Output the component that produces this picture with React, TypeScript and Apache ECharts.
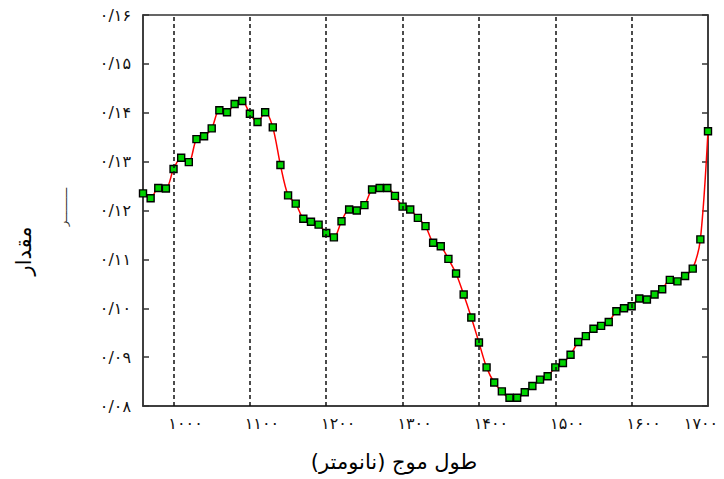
import React, { useEffect, useRef } from "react";
import * as echarts from "echarts";

const wavelengths = [
  960, 970, 980, 990, 1000, 1010, 1020, 1030, 1040, 1050,
  1060, 1070, 1080, 1090, 1100, 1110, 1120, 1130, 1140, 1150,
  1160, 1170, 1180, 1190, 1200, 1210, 1220, 1230, 1240, 1250,
  1260, 1270, 1280, 1290, 1300, 1310, 1320, 1330, 1340, 1350,
  1360, 1370, 1380, 1390, 1400, 1410, 1420, 1430, 1440, 1450,
  1460, 1470, 1480, 1490, 1500, 1510, 1520, 1530, 1540, 1550,
  1560, 1570, 1580, 1590, 1600, 1610, 1620, 1630, 1640, 1650,
  1660, 1670, 1680, 1690, 1700,
];

const values = [
  0.1235, 0.1225, 0.1246, 0.1245, 0.1285, 0.1308, 0.1299, 0.1346, 0.1352, 0.1368,
  0.1405, 0.1401, 0.1418, 0.1424, 0.1398, 0.1381, 0.1401, 0.137, 0.1293, 0.1231,
  0.1214, 0.1183, 0.1177, 0.1171, 0.1154, 0.1145, 0.1178, 0.1202, 0.12, 0.1211,
  0.1243, 0.1246, 0.1246, 0.123, 0.1208, 0.1202, 0.1185, 0.1168, 0.1134, 0.1127,
  0.1101, 0.1071, 0.1028, 0.0981, 0.093, 0.0879, 0.0848, 0.083, 0.0817, 0.0817,
  0.0828, 0.0841, 0.0854, 0.0861, 0.0879, 0.0888, 0.0905, 0.0931, 0.0943, 0.0958,
  0.0964, 0.0972, 0.0994, 0.1, 0.1004, 0.102, 0.1018, 0.1028, 0.1039, 0.1058,
  0.1055, 0.1066, 0.1081, 0.1141, 0.1362,
];

const xTickValues = [1000, 1100, 1200, 1300, 1400, 1500, 1600, 1700];
const xTickLabels = ["۱۰۰۰", "۱۱۰۰", "۱۲۰۰", "۱۳۰۰", "۱۴۰۰", "۱۵۰۰", "۱۶۰۰", "۱۷۰۰"];
const yTickValues = [0.08, 0.09, 0.1, 0.11, 0.12, 0.13, 0.14, 0.15, 0.16];
const yTickLabels = ["۰/۰۸", "۰/۰۹", "۰/۱۰", "۰/۱۱", "۰/۱۲", "۰/۱۳", "۰/۱۴", "۰/۱۵", "۰/۱۶"];
const gridLineX = [1000, 1100, 1200, 1300, 1400, 1500, 1600];

const xTitle = "طول موج (نانومتر)";
const yTitle = "مقدار";
const strayText = "ــــــــــر";

const FONT = "DejaVu Sans";

export default function App() {
  const ref = useRef<HTMLDivElement>(null);

  useEffect(() => {
    if (!ref.current) return;
    const chart = echarts.init(ref.current, undefined, { renderer: "svg" });
    const points = wavelengths.map((w, i) => [w, values[i]]);

    const xLabel = (v: number) => {
      const idx = xTickValues.indexOf(Math.round(v));
      if (idx < 0) return "";
      return idx === xTickValues.length - 1
        ? "{last|" + xTickLabels[idx] + "}"
        : "{n|" + xTickLabels[idx] + "}";
    };
    const yLabel = (v: number) => {
      const idx = yTickValues.findIndex((t) => Math.abs(t - v) < 1e-6);
      return idx >= 0 ? yTickLabels[idx] : "";
    };

    const tickText = { color: "#111", fontFamily: FONT, fontSize: 16 };

    chart.setOption({
      animation: false,
      backgroundColor: "#ffffff",
      grid: {
        left: 143,
        right: 16,
        top: 15,
        bottom: 73,
        show: true,
        borderColor: "#333",
        borderWidth: 1.5,
        outerBoundsMode: "none",
      },
      xAxis: {
        type: "value",
        min: 960,
        max: 1700,
        interval: 20,
        axisLine: { show: true, lineStyle: { color: "#333", width: 1.5 } },
        axisTick: { show: false },
        splitLine: { show: false },
        axisLabel: {
          formatter: xLabel,
          margin: 9,
          showMinLabel: true,
          showMaxLabel: true,
          rich: {
            n: { ...tickText, padding: [0, 0, 0, 24] },
            last: { ...tickText, padding: [0, 14, 0, 0] },
          },
        },
      },
      yAxis: [
        {
          type: "value",
          min: 0.08,
          max: 0.16,
          interval: 0.01,
          axisLine: { show: true, lineStyle: { color: "#333", width: 1.5 } },
          axisTick: { show: true, inside: true, length: 6, lineStyle: { color: "#333", width: 1.5 } },
          splitLine: { show: false },
          axisLabel: {
            formatter: yLabel,
            ...tickText,
            margin: 12,
          },
        },
        {
          type: "value",
          position: "right",
          min: 0.08,
          max: 0.16,
          interval: 0.01,
          axisLine: { show: true, lineStyle: { color: "#333", width: 1.5 } },
          axisTick: { show: true, inside: true, length: 6, lineStyle: { color: "#333", width: 1.5 } },
          splitLine: { show: false },
          axisLabel: { show: false },
        },
      ],
      series: [
        {
          type: "line",
          data: points,
          showSymbol: false,
          lineStyle: { opacity: 0 },
          silent: true,
          z: 1,
          markLine: {
            silent: true,
            symbol: ["none", "none"],
            label: { show: false },
            lineStyle: { type: [4, 3], color: "#111", width: 1.5 },
            data: gridLineX.map((x) => ({ xAxis: x })),
          },
        },
        {
          type: "line",
          data: points,
          smooth: 0.3,
          symbol: "rect",
          symbolSize: 7,
          showSymbol: true,
          lineStyle: { color: "#ff0000", width: 1.5 },
          itemStyle: { color: "#00d400", borderColor: "#000", borderWidth: 1.4 },
          z: 3,
        },
      ],
      graphic: [
        {
          type: "text",
          x: 394,
          y: 462,
          style: {
            text: xTitle,
            fontFamily: FONT,
            fontSize: 21,
            fill: "#000",
            textAlign: "center",
            textVerticalAlign: "middle",
          },
        },
        {
          type: "text",
          x: 24,
          y: 251,
          rotation: Math.PI / 2,
          style: {
            text: yTitle,
            fontFamily: FONT,
            fontSize: 21,
            fill: "#000",
            textAlign: "center",
            textVerticalAlign: "middle",
          },
        },
        {
          type: "text",
          x: 63,
          y: 207,
          rotation: Math.PI / 2,
          style: {
            text: strayText,
            fontFamily: FONT,
            fontSize: 11,
            fill: "#333",
            textAlign: "center",
            textVerticalAlign: "middle",
          },
        },
      ],
    });

    return () => chart.dispose();
  }, []);

  return (
    <div
      ref={ref}
      style={{ position: "fixed", left: 0, top: 0, width: 724, height: 479 }}
    />
  );
}
